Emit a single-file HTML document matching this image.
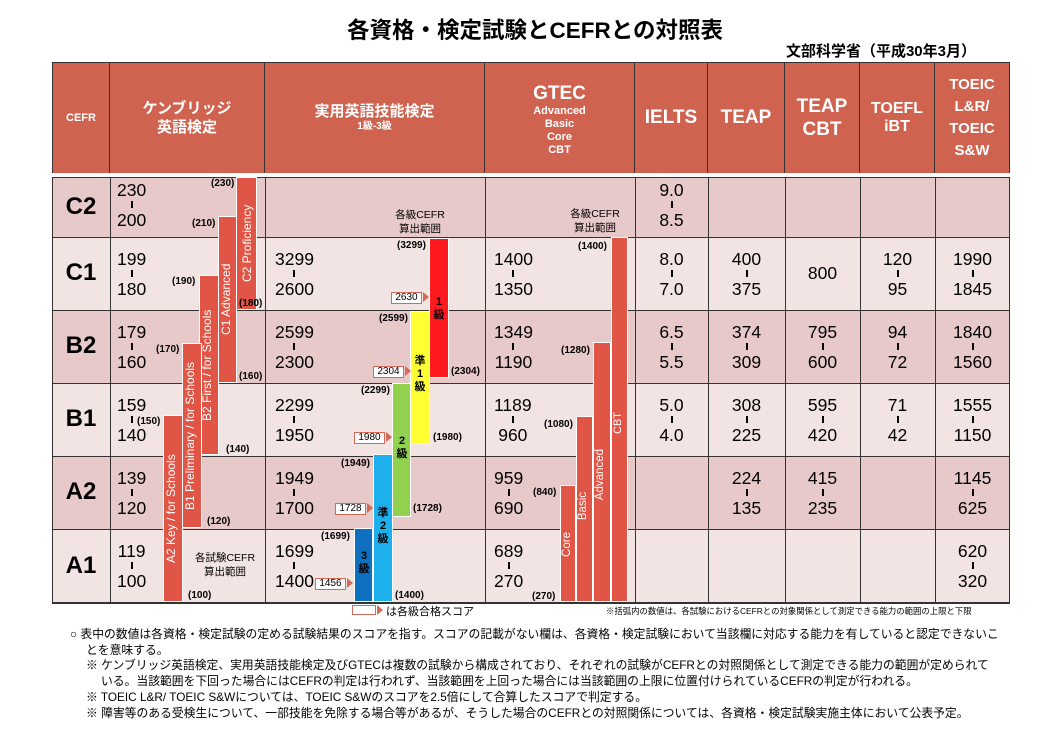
<!DOCTYPE html>
<html><head><meta charset="utf-8">
<style>
*{margin:0;padding:0;box-sizing:border-box}
body{width:1042px;height:734px;background:#fff;position:relative;overflow:hidden;font-family:"Liberation Sans","Noto Sans CJK JP",sans-serif;color:#000}
.a{position:absolute}
.hd{position:absolute;background:#cf634f;color:#fff;font-weight:bold;display:flex;flex-direction:column;align-items:center;justify-content:center;text-align:center;border-right:1px solid #333;top:63px;height:110px}
.row{position:absolute;left:52px;width:958px}
.vl{position:absolute;width:1px;background:#333}
.hl{position:absolute;height:1px;background:#333;left:52px;width:958px}
.sc{position:absolute;display:flex;flex-direction:column;align-items:center;font-size:17.5px;line-height:20px}
.sc i{display:block;width:2px;height:7px;background:#000;margin:1px 0 2px}
.cf{position:absolute;left:52px;width:58px;font-weight:bold;font-size:24px;text-align:center}
.bar{position:absolute;background:#e05545;border:1px solid #fff}
.vt{position:absolute;writing-mode:vertical-rl;transform:rotate(180deg);color:#fff;font-size:12px;white-space:nowrap}
.lb{position:absolute;font-size:10px;font-weight:bold;white-space:nowrap}
.co{position:absolute;height:12px;width:31px;border:1.5px solid #d36a5a;background:#fff;font-size:10px;line-height:9px;text-align:center}
.co:after{content:"";position:absolute;right:-8px;top:-1px;border-left:6px solid #d36a5a;border-top:5px solid transparent;border-bottom:5px solid transparent}
.kt{position:absolute;font-size:11px;font-weight:bold;text-align:center;line-height:13px;width:20px}
.ft{position:absolute;font-size:11.8px;white-space:nowrap}
</style></head><body>
<div class="a" style="left:14px;width:1042px;top:13px;text-align:center;font-size:22.5px;font-weight:bold">各資格・検定試験とCEFRとの対照表</div>
<div class="a" style="right:66px;top:40px;font-size:15px;font-weight:bold">文部科学省（平成30年3月）</div>

<!-- header -->
<div class="hd" style="left:52px;width:58px;border-left:1px solid #333;font-size:11px">CEFR</div>
<div class="hd" style="left:110px;width:155px;font-size:15px;line-height:19px">ケンブリッジ<br>英語検定</div>
<div class="hd" style="left:265px;width:220px;font-size:15px;line-height:18px">実用英語技能検定<span style="font-size:10px;line-height:12px">1級-3級</span></div>
<div class="hd" style="left:485px;width:150px;font-size:11px;line-height:13px;justify-content:flex-start;padding-top:20px"><span style="font-size:19px;line-height:22px">GTEC</span>Advanced<br>Basic<br>Core<br>CBT</div>
<div class="hd" style="left:635px;width:73px;font-size:19px">IELTS</div>
<div class="hd" style="left:708px;width:77px;font-size:19px">TEAP</div>
<div class="hd" style="left:785px;width:75px;font-size:19px;line-height:23px">TEAP<br>CBT</div>
<div class="hd" style="left:860px;width:75px;font-size:16px;line-height:18px">TOEFL<br>iBT</div>
<div class="hd" style="left:935px;width:75px;font-size:15px;line-height:22px">TOEIC<br>L&amp;R/<br>TOEIC<br>S&amp;W</div>
<div class="hl" style="top:62px"></div>

<!-- rows -->
<div class="row" style="top:178px;height:59px;background:#e8c9ca"></div>
<div class="row" style="top:237px;height:73px;background:#f3e4e4"></div>
<div class="row" style="top:310px;height:73px;background:#e8c9ca"></div>
<div class="row" style="top:383px;height:73px;background:#f3e4e4"></div>
<div class="row" style="top:456px;height:73px;background:#e8c9ca"></div>
<div class="row" style="top:529px;height:74px;background:#f3e4e4"></div>
<div class="hl" style="top:177px"></div><div class="hl" style="top:237px"></div><div class="hl" style="top:310px"></div><div class="hl" style="top:383px"></div><div class="hl" style="top:456px"></div><div class="hl" style="top:529px"></div><div class="hl" style="top:602px;height:2px"></div>
<div class="vl" style="left:52px;top:177px;height:426px"></div>
<div class="vl" style="left:110px;top:177px;height:426px"></div>
<div class="vl" style="left:265px;top:177px;height:426px"></div>
<div class="vl" style="left:485px;top:177px;height:426px"></div>
<div class="vl" style="left:635px;top:177px;height:426px"></div>
<div class="vl" style="left:708px;top:177px;height:426px"></div>
<div class="vl" style="left:785px;top:177px;height:426px"></div>
<div class="vl" style="left:860px;top:177px;height:426px"></div>
<div class="vl" style="left:935px;top:177px;height:426px"></div>
<div class="vl" style="left:1009px;top:177px;height:426px"></div>

<div class="cf" style="top:193px">C2</div>
<div class="cf" style="top:259px">C1</div>
<div class="cf" style="top:332px">B2</div>
<div class="cf" style="top:405px">B1</div>
<div class="cf" style="top:478px">A2</div>
<div class="cf" style="top:552px">A1</div>

<!-- scores -->
<div class="sc" style="left:117px;top:180px"><span>230</span><i></i><span>200</span></div>
<div class="sc" style="left:635px;width:73px;top:180px"><span>9.0</span><i></i><span>8.5</span></div>

<div class="sc" style="left:117px;top:249px"><span>199</span><i></i><span>180</span></div>
<div class="sc" style="left:275px;top:249px"><span>3299</span><i></i><span>2600</span></div>
<div class="sc" style="left:494px;top:249px"><span>1400</span><i></i><span>1350</span></div>
<div class="sc" style="left:635px;width:73px;top:249px"><span>8.0</span><i></i><span>7.0</span></div>
<div class="sc" style="left:708px;width:77px;top:249px"><span>400</span><i></i><span>375</span></div>
<div class="sc" style="left:785px;width:75px;top:263px"><span>800</span></div>
<div class="sc" style="left:860px;width:75px;top:249px"><span>120</span><i></i><span>95</span></div>
<div class="sc" style="left:935px;width:75px;top:249px"><span>1990</span><i></i><span>1845</span></div>

<div class="sc" style="left:117px;top:322px"><span>179</span><i></i><span>160</span></div>
<div class="sc" style="left:275px;top:322px"><span>2599</span><i></i><span>2300</span></div>
<div class="sc" style="left:494px;top:322px"><span>1349</span><i></i><span>1190</span></div>
<div class="sc" style="left:635px;width:73px;top:322px"><span>6.5</span><i></i><span>5.5</span></div>
<div class="sc" style="left:708px;width:77px;top:322px"><span>374</span><i></i><span>309</span></div>
<div class="sc" style="left:785px;width:75px;top:322px"><span>795</span><i></i><span>600</span></div>
<div class="sc" style="left:860px;width:75px;top:322px"><span>94</span><i></i><span>72</span></div>
<div class="sc" style="left:935px;width:75px;top:322px"><span>1840</span><i></i><span>1560</span></div>

<div class="sc" style="left:117px;top:395px"><span>159</span><i></i><span>140</span></div>
<div class="sc" style="left:275px;top:395px"><span>2299</span><i></i><span>1950</span></div>
<div class="sc" style="left:494px;top:395px"><span>1189</span><i></i><span>960</span></div>
<div class="sc" style="left:635px;width:73px;top:395px"><span>5.0</span><i></i><span>4.0</span></div>
<div class="sc" style="left:708px;width:77px;top:395px"><span>308</span><i></i><span>225</span></div>
<div class="sc" style="left:785px;width:75px;top:395px"><span>595</span><i></i><span>420</span></div>
<div class="sc" style="left:860px;width:75px;top:395px"><span>71</span><i></i><span>42</span></div>
<div class="sc" style="left:935px;width:75px;top:395px"><span>1555</span><i></i><span>1150</span></div>

<div class="sc" style="left:117px;top:468px"><span>139</span><i></i><span>120</span></div>
<div class="sc" style="left:275px;top:468px"><span>1949</span><i></i><span>1700</span></div>
<div class="sc" style="left:494px;top:468px"><span>959</span><i></i><span>690</span></div>
<div class="sc" style="left:708px;width:77px;top:468px"><span>224</span><i></i><span>135</span></div>
<div class="sc" style="left:785px;width:75px;top:468px"><span>415</span><i></i><span>235</span></div>
<div class="sc" style="left:935px;width:75px;top:468px"><span>1145</span><i></i><span>625</span></div>

<div class="sc" style="left:117px;top:541px"><span>119</span><i></i><span>100</span></div>
<div class="sc" style="left:275px;top:541px"><span>1699</span><i></i><span>1400</span></div>
<div class="sc" style="left:494px;top:541px"><span>689</span><i></i><span>270</span></div>
<div class="sc" style="left:935px;width:75px;top:541px"><span>620</span><i></i><span>320</span></div>

<!-- Cambridge bars -->
<div class="bar" style="left:236px;top:177px;width:21px;height:133px"></div>
<div class="vt" style="left:238px;top:177px;width:18px;height:133px;display:flex;align-items:center;justify-content:center">C2 Proficiency</div>
<div class="bar" style="left:218px;top:216px;width:19px;height:167px"></div>
<div class="vt" style="left:219px;top:216px;width:18px;height:167px;text-align:center">C1 Advanced</div>
<div class="bar" style="left:199px;top:275px;width:20px;height:180px"></div>
<div class="vt" style="left:200px;top:275px;width:18px;height:180px;text-align:center">B2 First / for Schools</div>
<div class="bar" style="left:182px;top:343px;width:20px;height:185px"></div>
<div class="vt" style="left:183px;top:343px;width:18px;height:185px;text-align:center">B1 Preliminary / for Schools</div>
<div class="bar" style="left:163px;top:415px;width:20px;height:187px"></div>
<div class="vt" style="left:164px;top:415px;width:18px;height:187px;text-align:center">A2 Key / for Schools</div>
<div class="lb" style="left:211px;top:178px">(230)</div>
<div class="lb" style="left:192px;top:218px">(210)</div>
<div class="lb" style="left:172px;top:276px">(190)</div>
<div class="lb" style="left:239px;top:298px">(180)</div>
<div class="lb" style="left:156px;top:344px">(170)</div>
<div class="lb" style="left:239px;top:371px">(160)</div>
<div class="lb" style="left:137px;top:416px">(150)</div>
<div class="lb" style="left:226px;top:444px">(140)</div>
<div class="lb" style="left:207px;top:516px">(120)</div>
<div class="lb" style="left:188px;top:590px">(100)</div>
<div class="a" style="left:190px;top:551px;width:70px;text-align:center;font-size:10.5px;line-height:14px">各試験CEFR<br>算出範囲</div>

<!-- Eiken bars -->
<div class="a" style="left:385px;top:208px;width:70px;text-align:center;font-size:10.5px;line-height:14px">各級CEFR<br>算出範囲</div>
<div class="bar" style="left:429px;top:238px;width:20px;height:140px;background:#ff1a20"></div>
<div class="bar" style="left:410px;top:311px;width:20px;height:133px;background:#ffff33"></div>
<div class="bar" style="left:392px;top:383px;width:19px;height:134px;background:#92d050"></div>
<div class="bar" style="left:373px;top:454px;width:20px;height:148px;background:#1eb0ec"></div>
<div class="bar" style="left:354px;top:528px;width:19px;height:74px;background:#1070c0"></div>
<div class="kt" style="left:429px;top:296px">1<br>級</div>
<div class="kt" style="left:410px;top:355px">準<br>1<br>級</div>
<div class="kt" style="left:392px;top:435px">2<br>級</div>
<div class="kt" style="left:373px;top:507px">準<br>2<br>級</div>
<div class="kt" style="left:354px;top:550px">3<br>級</div>
<div class="lb" style="left:397px;top:240px">(3299)</div>
<div class="lb" style="left:379px;top:313px">(2599)</div>
<div class="lb" style="left:451px;top:366px">(2304)</div>
<div class="lb" style="left:361px;top:385px">(2299)</div>
<div class="lb" style="left:433px;top:432px">(1980)</div>
<div class="lb" style="left:341px;top:458px">(1949)</div>
<div class="lb" style="left:413px;top:503px">(1728)</div>
<div class="lb" style="left:321px;top:531px">(1699)</div>
<div class="lb" style="left:395px;top:590px">(1400)</div>
<div class="co" style="left:391px;top:292px">2630</div>
<div class="co" style="left:373px;top:366px">2304</div>
<div class="co" style="left:354px;top:432px">1980</div>
<div class="co" style="left:335px;top:503px">1728</div>
<div class="co" style="left:315px;top:578px">1456</div>

<!-- GTEC bars -->
<div class="a" style="left:560px;top:207px;width:70px;text-align:center;font-size:10.5px;line-height:14px">各級CEFR<br>算出範囲</div>
<div class="bar" style="left:611px;top:237px;width:17px;height:365px"></div>
<div class="bar" style="left:593px;top:342px;width:18px;height:260px"></div>
<div class="bar" style="left:576px;top:416px;width:17px;height:186px"></div>
<div class="bar" style="left:560px;top:485px;width:16px;height:117px"></div>
<div class="vt" style="left:612px;top:412px;width:15px;font-size:11px">CBT</div>
<div class="vt" style="left:594px;top:449px;width:16px;font-size:11.5px">Advanced</div>
<div class="vt" style="left:577px;top:492px;width:15px;font-size:11.5px">Basic</div>
<div class="vt" style="left:561px;top:532px;width:14px;font-size:11.5px">Core</div>
<div class="lb" style="left:578px;top:241px">(1400)</div>
<div class="lb" style="left:561px;top:345px">(1280)</div>
<div class="lb" style="left:544px;top:419px">(1080)</div>
<div class="lb" style="left:533px;top:487px">(840)</div>
<div class="lb" style="left:532px;top:591px">(270)</div>

<!-- legend -->
<div class="co" style="left:352px;top:605px;width:24px;height:10px"></div>
<div class="a" style="left:386px;top:603px;font-size:11px">は各級合格スコア</div>
<div class="a" style="left:606px;top:605px;font-size:8.4px;white-space:nowrap">※括弧内の数値は、各試験におけるCEFRとの対象関係として測定できる能力の範囲の上限と下限</div>

<!-- footer -->
<div class="ft" style="left:70px;top:625px">○ 表中の数値は各資格・検定試験の定める試験結果のスコアを指す。スコアの記載がない欄は、各資格・検定試験において当該欄に対応する能力を有していると認定できないこ</div>
<div class="ft" style="left:86px;top:641px">とを意味する。</div>
<div class="ft" style="left:86px;top:656px">※ ケンブリッジ英語検定、実用英語技能検定及びGTECは複数の試験から構成されており、それぞれの試験がCEFRとの対照関係として測定できる能力の範囲が定められて</div>
<div class="ft" style="left:101px;top:672px">いる。当該範囲を下回った場合にはCEFRの判定は行われず、当該範囲を上回った場合には当該範囲の上限に位置付けられているCEFRの判定が行われる。</div>
<div class="ft" style="left:86px;top:688px">※ TOEIC L&amp;R/ TOEIC S&amp;Wについては、TOEIC S&amp;Wのスコアを2.5倍にして合算したスコアで判定する。</div>
<div class="ft" style="left:86px;top:704px">※ 障害等のある受検生について、一部技能を免除する場合等があるが、そうした場合のCEFRとの対照関係については、各資格・検定試験実施主体において公表予定。</div>
</body></html>
